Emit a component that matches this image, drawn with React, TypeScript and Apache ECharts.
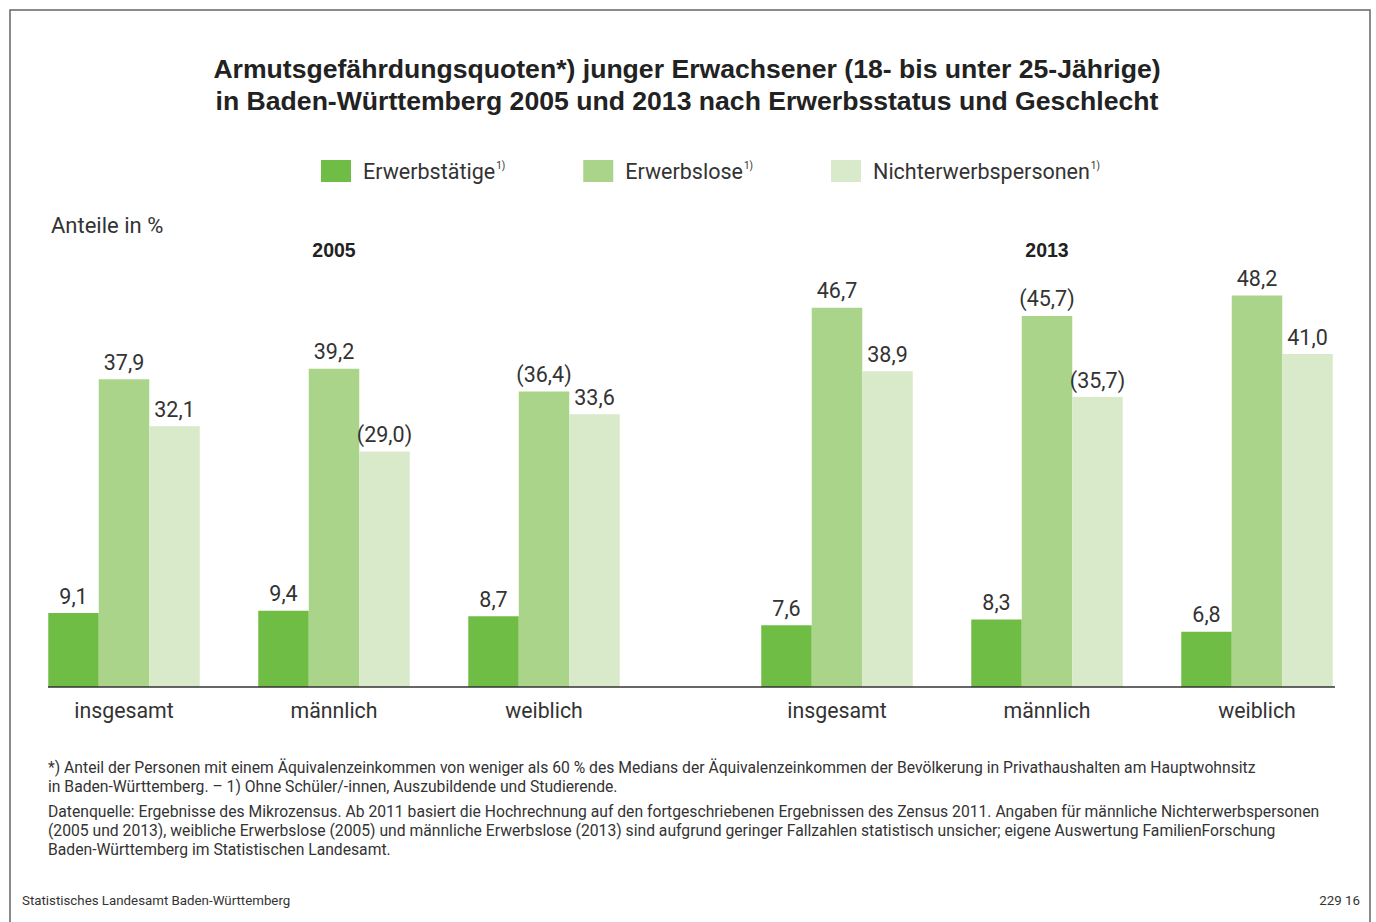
import React, { useEffect, useRef } from "react";
import * as echarts from "echarts";

const categories = ["insgesamt", "männlich", "weiblich"];
const seriesNames = ["Erwerbstätige", "Erwerbslose", "Nichterwerbspersonen"];
const years = ["2005", "2013"];

const erwerbstaetige2005 = [9.1, 9.4, 8.7];
const erwerbslose2005 = [37.9, 39.2, 36.4];
const nichterwerb2005 = [32.1, 29.0, 33.6];
const erwerbstaetige2013 = [7.6, 8.3, 6.8];
const erwerbslose2013 = [46.7, 45.7, 48.2];
const nichterwerb2013 = [38.9, 35.7, 41.0];

// statistically uncertain values shown in parentheses
const uncertain2005 = [[false, false, false], [false, false, true], [false, true, false]]; // [category][series]
const uncertain2013 = [[false, false, false], [false, true, true], [false, false, false]];

const colors = ["#70bd45", "#a9d489", "#d9eacb"];
const FONT = "Roboto, 'Liberation Sans', sans-serif";
const BOLD = "'Liberation Sans', Arial, sans-serif";
const TXT = "#333333";

const footnote1 =
  "*) Anteil der Personen mit einem Äquivalenzeinkommen von weniger als 60 % des Medians der Äquivalenzeinkommen der Bevölkerung in Privathaushalten am Hauptwohnsitz\nin Baden-Württemberg. – 1) Ohne Schüler/-innen, Auszubildende und Studierende.";
const footnote2 =
  "Datenquelle: Ergebnisse des Mikrozensus. Ab 2011 basiert die Hochrechnung auf den fortgeschriebenen Ergebnissen des Zensus 2011. Angaben für männliche Nichterwerbspersonen\n(2005 und 2013), weibliche Erwerbslose (2005) und männliche Erwerbslose (2013) sind aufgrund geringer Fallzahlen statistisch unsicher; eigene Auswertung FamilienForschung\nBaden-Württemberg im Statistischen Landesamt.";

const fmt = (v: number, unc: boolean) => {
  const s = v.toFixed(1).replace(".", ",");
  return unc ? `(${s})` : s;
};

export default function App() {
  const ref = useRef<HTMLDivElement>(null);
  useEffect(() => {
    document.body.style.margin = "0";
    const chart = echarts.init(ref.current!, undefined, { renderer: "svg" });

    const gridTop = 281;
    const gridBottom = 235;
    const baseY = 922 - gridBottom;

    const data2005 = [erwerbstaetige2005, erwerbslose2005, nichterwerb2005];
    const data2013 = [erwerbstaetige2013, erwerbslose2013, nichterwerb2013];

    const mkSeries = (arr: number[][], unc: boolean[][], gi: number) =>
      arr.map((vals, si) => ({
        type: "bar",
        name: seriesNames[si],
        xAxisIndex: gi,
        yAxisIndex: gi,
        data: vals,
        barWidth: 50.5,
        barGap: "0%",
        itemStyle: { color: colors[si] },
        label: {
          show: true,
          position: "top",
          distance: 6,
          fontFamily: FONT,
          fontSize: 21.5,
          color: TXT,
          formatter: (p: any) => fmt(p.value, unc[p.dataIndex][si]),
        },
      }));

    const grids = [
      { left: 19, width: 630, top: gridTop, bottom: gridBottom },
      { left: 732, width: 630, top: gridTop, bottom: gridBottom },
    ];

    const option: any = {
      animation: false,
      title: [
        {
          text: "Armutsgefährdungsquoten*) junger Erwachsener (18- bis unter 25-Jährige)\nin Baden-Württemberg 2005 und 2013 nach Erwerbsstatus und Geschlecht",
          left: 687,
          top: 53,
          padding: 0,
          textAlign: "center",
          textStyle: { fontFamily: BOLD, fontSize: 26.6, fontWeight: "bold", color: "#222", lineHeight: 32 },
        },
        {
          text: years[0],
          left: grids[0].left + grids[0].width / 2,
          top: 240,
          padding: 0,
          textAlign: "center",
          textStyle: { fontFamily: BOLD, fontSize: 19.5, fontWeight: "bold", color: "#222" },
        },
        {
          text: years[1],
          left: grids[1].left + grids[1].width / 2,
          top: 240,
          padding: 0,
          textAlign: "center",
          textStyle: { fontFamily: BOLD, fontSize: 19.5, fontWeight: "bold", color: "#222" },
        },
      ],
      legend: {
        left: 321,
        top: 160,
        padding: 0,
        itemWidth: 30,
        itemHeight: 22,
        itemGap: 78,
        icon: "rect",
        data: seriesNames,
        formatter: (n: string) => `{a|${n}}{b|1)}`,
        textStyle: {
          padding: [0, 0, 0, 7],
          rich: {
            a: { fontFamily: FONT, fontSize: 21.5, color: TXT },
            b: { fontFamily: FONT, fontSize: 10, color: TXT, padding: [0, 0, 12, 1] },
          },
        },
      },
      grid: grids,
      xAxis: grids.map((_, gi) => ({
        type: "category",
        gridIndex: gi,
        data: categories,
        axisLine: { show: false },
        axisTick: { show: false },
        axisLabel: { fontFamily: FONT, fontSize: 21.3, color: TXT, margin: 13 },
      })),
      yAxis: grids.map((_, gi) => ({
        type: "value",
        gridIndex: gi,
        min: 0,
        max: 50,
        show: false,
        splitLine: { show: false },
      })),
      series: [...mkSeries(data2005, uncertain2005, 0), ...mkSeries(data2013, uncertain2013, 1)],
      graphic: [
        {
          type: "rect",
          shape: { x: 10, y: 10, width: 1360, height: 930 },
          style: { fill: "none", stroke: "#666", lineWidth: 1.5 },
          silent: true,
        },
        {
          type: "line",
          shape: { x1: 48, y1: baseY, x2: 1335, y2: baseY },
          style: { stroke: "#333", lineWidth: 1.5 },
          z: 100,
        },
        {
          type: "text",
          left: 51,
          top: 214,
          style: { text: "Anteile in %", fontFamily: FONT, fontSize: 22, fill: TXT },
        },
        {
          type: "text",
          left: 48,
          top: 758,
          style: { text: footnote1, fontFamily: FONT, fontSize: 15.7, fill: TXT, lineHeight: 19 },
        },
        {
          type: "text",
          left: 48,
          top: 802,
          style: { text: footnote2, fontFamily: FONT, fontSize: 15.7, fill: TXT, lineHeight: 19 },
        },
        {
          type: "text",
          left: 22,
          top: 894,
          style: { text: "Statistisches Landesamt Baden-Württemberg", fontFamily: FONT, fontSize: 13.3, fill: TXT },
        },
        {
          type: "text",
          right: 16,
          top: 894,
          style: { text: "229 16", fontFamily: FONT, fontSize: 13.3, fill: TXT },
        },
      ],
    };
    chart.setOption(option);
    return () => chart.dispose();
  }, []);
  return <div ref={ref} style={{ position: "absolute", left: 0, top: 0, width: 1376, height: 922, background: "#fff" }} />;
}
